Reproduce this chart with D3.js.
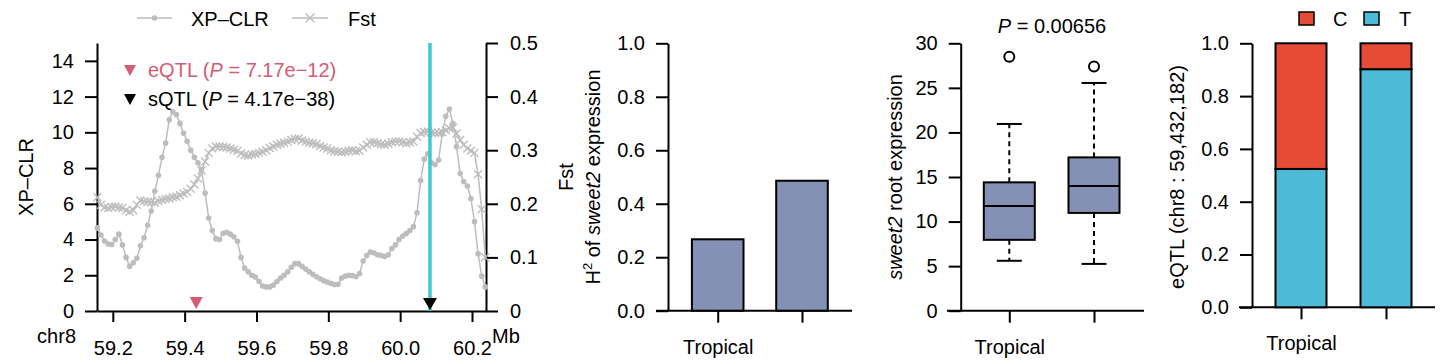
<!DOCTYPE html>
<html><head><meta charset="utf-8">
<script src="https://cdn.jsdelivr.net/npm/d3@7"></script>
<style>
body{margin:0;background:#fff}
svg{display:block}
text{font-family:"Liberation Sans",Arial,Helvetica,sans-serif;fill:#000}
</style>
</head><body>
<svg id="c" width="1456" height="364"></svg>
<script>
// ---------- Panel 1 data: XP-CLR and Fst along chr8 (Mb) ----------
const positions = [
59.157,59.167,59.177,59.187,59.197,59.207,59.217,59.227,59.237,59.247,
59.257,59.267,59.277,59.287,59.297,59.307,59.317,59.327,59.337,59.347,
59.357,59.367,59.377,59.387,59.397,59.407,59.417,59.427,59.437,59.447,
59.457,59.467,59.477,59.487,59.497,59.507,59.517,59.527,59.537,59.547,
59.557,59.567,59.577,59.587,59.597,59.607,59.617,59.627,59.637,59.647,
59.657,59.667,59.677,59.687,59.697,59.707,59.717,59.727,59.737,59.747,
59.757,59.767,59.777,59.787,59.797,59.807,59.817,59.827,59.837,59.847,
59.857,59.867,59.877,59.887,59.897,59.907,59.917,59.927,59.937,59.947,
59.957,59.967,59.977,59.987,59.997,60.007,60.017,60.027,60.037,60.047,
60.057,60.067,60.077,60.087,60.097,60.107,60.117,60.127,60.137,60.147,
60.157,60.167,60.177,60.187,60.197,60.207,60.217,60.227,60.237];
const xpclr = [
4.65,4.25,3.92,3.75,3.72,4.0,4.3,3.7,3.0,2.5,
2.7,2.95,3.65,4.1,4.8,5.6,6.7,7.6,8.6,9.4,
10.7,11.15,11.0,10.5,9.95,9.5,9.0,8.6,8.3,7.9,
6.6,5.2,4.5,4.05,4.0,4.35,4.4,4.3,4.15,3.9,
3.0,2.4,2.2,2.0,1.9,1.65,1.4,1.35,1.35,1.45,
1.65,1.85,2.0,2.2,2.45,2.65,2.65,2.5,2.35,2.2,
2.05,1.92,1.8,1.7,1.62,1.55,1.48,1.5,1.85,1.95,
2.0,1.98,1.92,2.1,2.8,3.1,3.3,3.25,3.15,3.12,
3.05,3.15,3.5,3.7,4.0,4.2,4.33,4.5,4.72,5.5,
7.3,8.5,8.8,8.3,8.2,8.45,9.9,10.9,11.3,10.5,
9.2,7.7,7.25,7.0,6.3,5.0,3.2,1.95,1.35];
const fst = [
0.212,0.198,0.193,0.192,0.194,0.195,0.193,0.192,0.188,0.185,
0.188,0.198,0.206,0.205,0.204,0.203,0.202,0.205,0.207,0.209,
0.210,0.212,0.213,0.216,0.219,0.222,0.228,0.236,0.247,0.262,
0.279,0.295,0.303,0.307,0.307,0.306,0.305,0.303,0.301,0.299,
0.294,0.291,0.290,0.292,0.293,0.295,0.297,0.300,0.304,0.307,
0.310,0.312,0.314,0.316,0.319,0.321,0.322,0.318,0.316,0.314,
0.313,0.311,0.308,0.305,0.303,0.300,0.298,0.297,0.296,0.297,
0.299,0.300,0.298,0.299,0.305,0.310,0.315,0.315,0.313,0.311,
0.310,0.312,0.315,0.316,0.316,0.315,0.313,0.315,0.316,0.325,
0.332,0.334,0.335,0.333,0.332,0.332,0.334,0.337,0.341,0.342,
0.331,0.319,0.310,0.303,0.299,0.295,0.255,0.190,0.100];
const xTicks = [59.2,59.4,59.6,59.8,60.0,60.2];
const xTickLabels = ["59.2","59.4","59.6","59.8","60.0","60.2"];
const yLeftTicks = [0,2,4,6,8,10,12,14];
const yRightTicks = [0,0.1,0.2,0.3,0.4,0.5];
const yRightTickLabels = ["0","0.1","0.2","0.3","0.4","0.5"];
const eqtlPos = 59.432182;
const sqtlPos = 60.083;

// ---------- Panel 2: heritability ----------
const groups = ["Tropical","Temperate"];
const groupTickLabels = ["Tropical",""];
const h2Values = [0.267,0.486];
const ticks01 = [0,0.2,0.4,0.6,0.8,1.0];
const ticks01Labels = ["0.0","0.2","0.4","0.6","0.8","1.0"];

// ---------- Panel 3: boxplot ----------
const boxLow = [5.6,5.25];
const boxQ1 = [7.95,10.97];
const boxMedian = [11.75,14.0];
const boxQ3 = [14.4,17.2];
const boxHigh = [20.95,25.55];
const boxOutliers = [[28.5],[27.4]];
const boxTicks = [0,5,10,15,20,25,30];

// ---------- Panel 4: allele frequency ----------
const alleles = ["C","T"];
const freqT = [0.524,0.902];
const freqC = [0.476,0.098];

const C_GREY = "#bdbdbd", C_BAR = "#8491B4", C_RED = "#E64B35", C_BLUE = "#4DBBD5",
      C_CYAN = "#3FC8D0", C_PINK = "#D45C74";
const FS = 20;
const BASE = 0.71*FS;

const svg = d3.select("#c");

function styleAxis(g){
  g.selectAll("path,line").attr("stroke","#000").attr("stroke-width",2);
  g.selectAll("text").attr("font-size",FS).attr("fill","#000").attr("font-family",null);
}

// ================= Panel 1 =================
const x1 = d3.scaleLinear().domain([59.156,60.239]).range([97,486]);
const yL = d3.scaleLinear().domain([0,15]).range([311,43]);
const yR = d3.scaleLinear().domain([0,0.5]).range([311,43]);

svg.append("g").attr("transform","translate(97,0)")
  .call(d3.axisLeft(yL).tickValues(yLeftTicks).tickSize(12).tickSizeOuter(0).tickPadding(11))
  .call(styleAxis);
svg.append("g").attr("transform","translate(486,0)")
  .call(d3.axisRight(yR).tickValues(yRightTicks).tickFormat((d,i)=>yRightTickLabels[i]).tickSize(12).tickSizeOuter(0).tickPadding(12))
  .call(styleAxis);
svg.append("g").attr("transform","translate(0,311)")
  .call(d3.axisBottom(x1).tickValues(xTicks).tickFormat((d,i)=>xTickLabels[i]).tickSize(11).tickSizeOuter(0).tickPadding(355-311-11-BASE))
  .call(styleAxis);

svg.append("text").attr("x",76).attr("y",343).attr("text-anchor","end").attr("font-size",FS).text("chr8");
svg.append("text").attr("x",492).attr("y",343).attr("font-size",FS).text("Mb");
svg.append("text").attr("transform","translate(33,177) rotate(-90)").attr("text-anchor","middle").attr("font-size",FS).text("XP\u2013CLR");
svg.append("text").attr("transform","translate(573,177) rotate(-90)").attr("text-anchor","middle").attr("font-size",FS).text("Fst");

const fstLine = d3.line().x((d,i)=>x1(positions[i])).y(d=>yR(d));
const xpLine = d3.line().x((d,i)=>x1(positions[i])).y(d=>yL(d));
const xMark = (cx,cy,s)=>`M${cx-s},${cy-s}L${cx+s},${cy+s}M${cx-s},${cy+s}L${cx+s},${cy-s}`;

svg.append("path").datum(fst).attr("d",fstLine).attr("fill","none").attr("stroke",C_GREY).attr("stroke-width",1.5);
svg.append("g").selectAll("path").data(fst).join("path")
  .attr("d",(d,i)=>xMark(x1(positions[i]),yR(d),4)).attr("stroke",C_GREY).attr("stroke-width",1.4).attr("fill","none");

svg.append("path").datum(xpclr).attr("d",xpLine).attr("fill","none").attr("stroke",C_GREY).attr("stroke-width",1.5);
svg.append("g").selectAll("circle").data(xpclr).join("circle")
  .attr("cx",(d,i)=>x1(positions[i])).attr("cy",d=>yL(d)).attr("r",2.8).attr("fill",C_GREY);

// sQTL vertical line
svg.append("line").attr("x1",x1(sqtlPos)).attr("x2",x1(sqtlPos)).attr("y1",43).attr("y2",311)
  .attr("stroke",C_CYAN).attr("stroke-width",3.5);
const tri = (cx,tipY,w,h)=>`M${cx-w/2},${tipY-h}L${cx+w/2},${tipY-h}L${cx},${tipY}Z`;
svg.append("path").attr("d",tri(x1(eqtlPos),309,13,12)).attr("fill",C_PINK);
svg.append("path").attr("d",tri(x1(sqtlPos),310,14,12)).attr("fill","#000");

// annotation legend
svg.append("path").attr("d",tri(130,76,12,11)).attr("fill",C_PINK);
svg.append("path").attr("d",tri(130,105,12,11)).attr("fill","#000");
const eT = svg.append("text").attr("x",148).attr("y",77).attr("font-size",FS).style("fill",C_PINK);
eT.append("tspan").text("eQTL (");
eT.append("tspan").attr("font-style","italic").text("P");
eT.append("tspan").text(" = 7.17e\u221212)");
const sT = svg.append("text").attr("x",148).attr("y",106).attr("font-size",FS);
sT.append("tspan").text("sQTL (");
sT.append("tspan").attr("font-style","italic").text("P");
sT.append("tspan").text(" = 4.17e\u221238)");

// top legend
svg.append("line").attr("x1",137).attr("x2",172).attr("y1",18).attr("y2",18).attr("stroke",C_GREY).attr("stroke-width",1.5);
svg.append("circle").attr("cx",154.5).attr("cy",18).attr("r",2.8).attr("fill",C_GREY);
svg.append("text").attr("x",191).attr("y",26).attr("font-size",FS).text("XP\u2013CLR");
svg.append("line").attr("x1",292).attr("x2",328).attr("y1",18).attr("y2",18).attr("stroke",C_GREY).attr("stroke-width",1.5);
svg.append("path").attr("d",xMark(310,18,4.5)).attr("stroke",C_GREY).attr("stroke-width",1.4);
svg.append("text").attr("x",348).attr("y",26).attr("font-size",FS).text("Fst");

// helper for category panels
function catPanel(axisX, y0, yTop, lineLeft, lineRight, centers, yDomain, yTicks, yTickFmt, labelBaseline){
  const y = d3.scaleLinear().domain(yDomain).range([y0,yTop]);
  const x = d3.scalePoint().domain(groups).range(centers);
  svg.append("g").attr("transform",`translate(${axisX},0)`)
    .call(d3.axisLeft(y).tickValues(yTicks).tickFormat(yTickFmt).tickSize(12).tickSizeOuter(0).tickPadding(11))
    .call(styleAxis);
  svg.append("line").attr("x1",lineLeft).attr("x2",lineRight).attr("y1",y0).attr("y2",y0).attr("stroke","#000").attr("stroke-width",2);
  const gx = svg.append("g").attr("transform",`translate(0,${y0})`)
    .call(d3.axisBottom(x).tickSize(12).tickSizeOuter(0).tickPadding(labelBaseline - y0 - 12 - BASE).tickFormat((d,i)=>groupTickLabels[i]))
    .call(styleAxis);
  gx.select(".domain").remove();
  return {x,y};
}

// ================= Panel 2 =================
const p2 = catPanel(668, 310.7, 43.3, 656, 852, [717.7,802], [0,1], ticks01, (d,i)=>ticks01Labels[i], 354);
svg.append("g").selectAll("rect").data(h2Values).join("rect")
  .attr("x",(d,i)=>p2.x(groups[i])-25.8).attr("width",51.6)
  .attr("y",d=>p2.y(d)).attr("height",d=>p2.y(0)-p2.y(d))
  .attr("fill",C_BAR).attr("stroke","#000").attr("stroke-width",2);
const h2L = svg.append("text").attr("transform","translate(600,177) rotate(-90)").attr("text-anchor","middle").attr("font-size",FS);
h2L.append("tspan").text("H");
h2L.append("tspan").attr("font-size",13).attr("dy",-8).text("2");
h2L.append("tspan").attr("dy",8).text(" of ");
h2L.append("tspan").attr("font-style","italic").text("sweet2");
h2L.append("tspan").text(" expression");

// ================= Panel 3 =================
const p3 = catPanel(960.7, 310.7, 43.3, 947, 1144, [1009.3,1094], [0,30], boxTicks, d=>String(d), 354);
const bw = 51, cw = 25;
groups.forEach((g,i)=>{
  const cx = p3.x(g);
  const G = svg.append("g");
  G.append("line").attr("x1",cx).attr("x2",cx).attr("y1",p3.y(boxQ3[i])).attr("y2",p3.y(boxHigh[i]))
    .attr("stroke","#000").attr("stroke-width",2).attr("stroke-dasharray","5,4");
  G.append("line").attr("x1",cx).attr("x2",cx).attr("y1",p3.y(boxQ1[i])).attr("y2",p3.y(boxLow[i]))
    .attr("stroke","#000").attr("stroke-width",2).attr("stroke-dasharray","5,4");
  G.append("line").attr("x1",cx-cw/2).attr("x2",cx+cw/2).attr("y1",p3.y(boxHigh[i])).attr("y2",p3.y(boxHigh[i])).attr("stroke","#000").attr("stroke-width",2);
  G.append("line").attr("x1",cx-cw/2).attr("x2",cx+cw/2).attr("y1",p3.y(boxLow[i])).attr("y2",p3.y(boxLow[i])).attr("stroke","#000").attr("stroke-width",2);
  G.append("rect").attr("x",cx-bw/2).attr("width",bw).attr("y",p3.y(boxQ3[i])).attr("height",p3.y(boxQ1[i])-p3.y(boxQ3[i]))
    .attr("fill",C_BAR).attr("stroke","#000").attr("stroke-width",2);
  G.append("line").attr("x1",cx-bw/2).attr("x2",cx+bw/2).attr("y1",p3.y(boxMedian[i])).attr("y2",p3.y(boxMedian[i])).attr("stroke","#000").attr("stroke-width",2);
  G.selectAll("circle").data(boxOutliers[i]).join("circle").attr("cx",cx).attr("cy",d=>p3.y(d)).attr("r",5)
    .attr("fill","#fff").attr("stroke","#000").attr("stroke-width",2);
});
const pT = svg.append("text").attr("x",1052).attr("y",33).attr("text-anchor","middle").attr("font-size",FS);
pT.append("tspan").attr("font-style","italic").text("P");
pT.append("tspan").text(" = 0.00656");
const l3 = svg.append("text").attr("transform","translate(902,177) rotate(-90)").attr("text-anchor","middle").attr("font-size",FS);
l3.append("tspan").attr("font-style","italic").text("sweet2");
l3.append("tspan").text(" root expression");

// ================= Panel 4 =================
const p4 = catPanel(1252, 307.3, 43.3, 1239, 1435, [1301,1386], [0,1], ticks01, (d,i)=>ticks01Labels[i], 350);
const stackData = groups.map((g,i)=>({g, T:freqT[i], C:freqC[i]}));
const stack = d3.stack().keys(["T","C"])(stackData);
const colorOf = {C:C_RED, T:C_BLUE};
svg.append("g").selectAll("g").data(stack).join("g").attr("fill",d=>colorOf[d.key])
  .selectAll("rect").data(d=>d).join("rect")
  .attr("x",d=>p4.x(d.data.g)-25.5).attr("width",51)
  .attr("y",d=>p4.y(d[1])).attr("height",d=>p4.y(d[0])-p4.y(d[1]))
  .attr("stroke","#000").attr("stroke-width",2);
const lg = svg.append("g");
lg.selectAll("rect").data(alleles).join("rect")
  .attr("x",(d,i)=>[1299,1364][i]).attr("y",12).attr("width",15).attr("height",13)
  .attr("fill",d=>colorOf[d]).attr("stroke","#000").attr("stroke-width",1.5);
lg.selectAll("text").data(alleles).join("text")
  .attr("x",(d,i)=>[1333,1399][i]).attr("y",26).attr("font-size",FS).text(d=>d);
svg.append("text").attr("transform","translate(1184,177) rotate(-90)").attr("text-anchor","middle").attr("font-size",FS)
  .text("eQTL (chr8 : 59,432,182)");
</script>
</body></html>
